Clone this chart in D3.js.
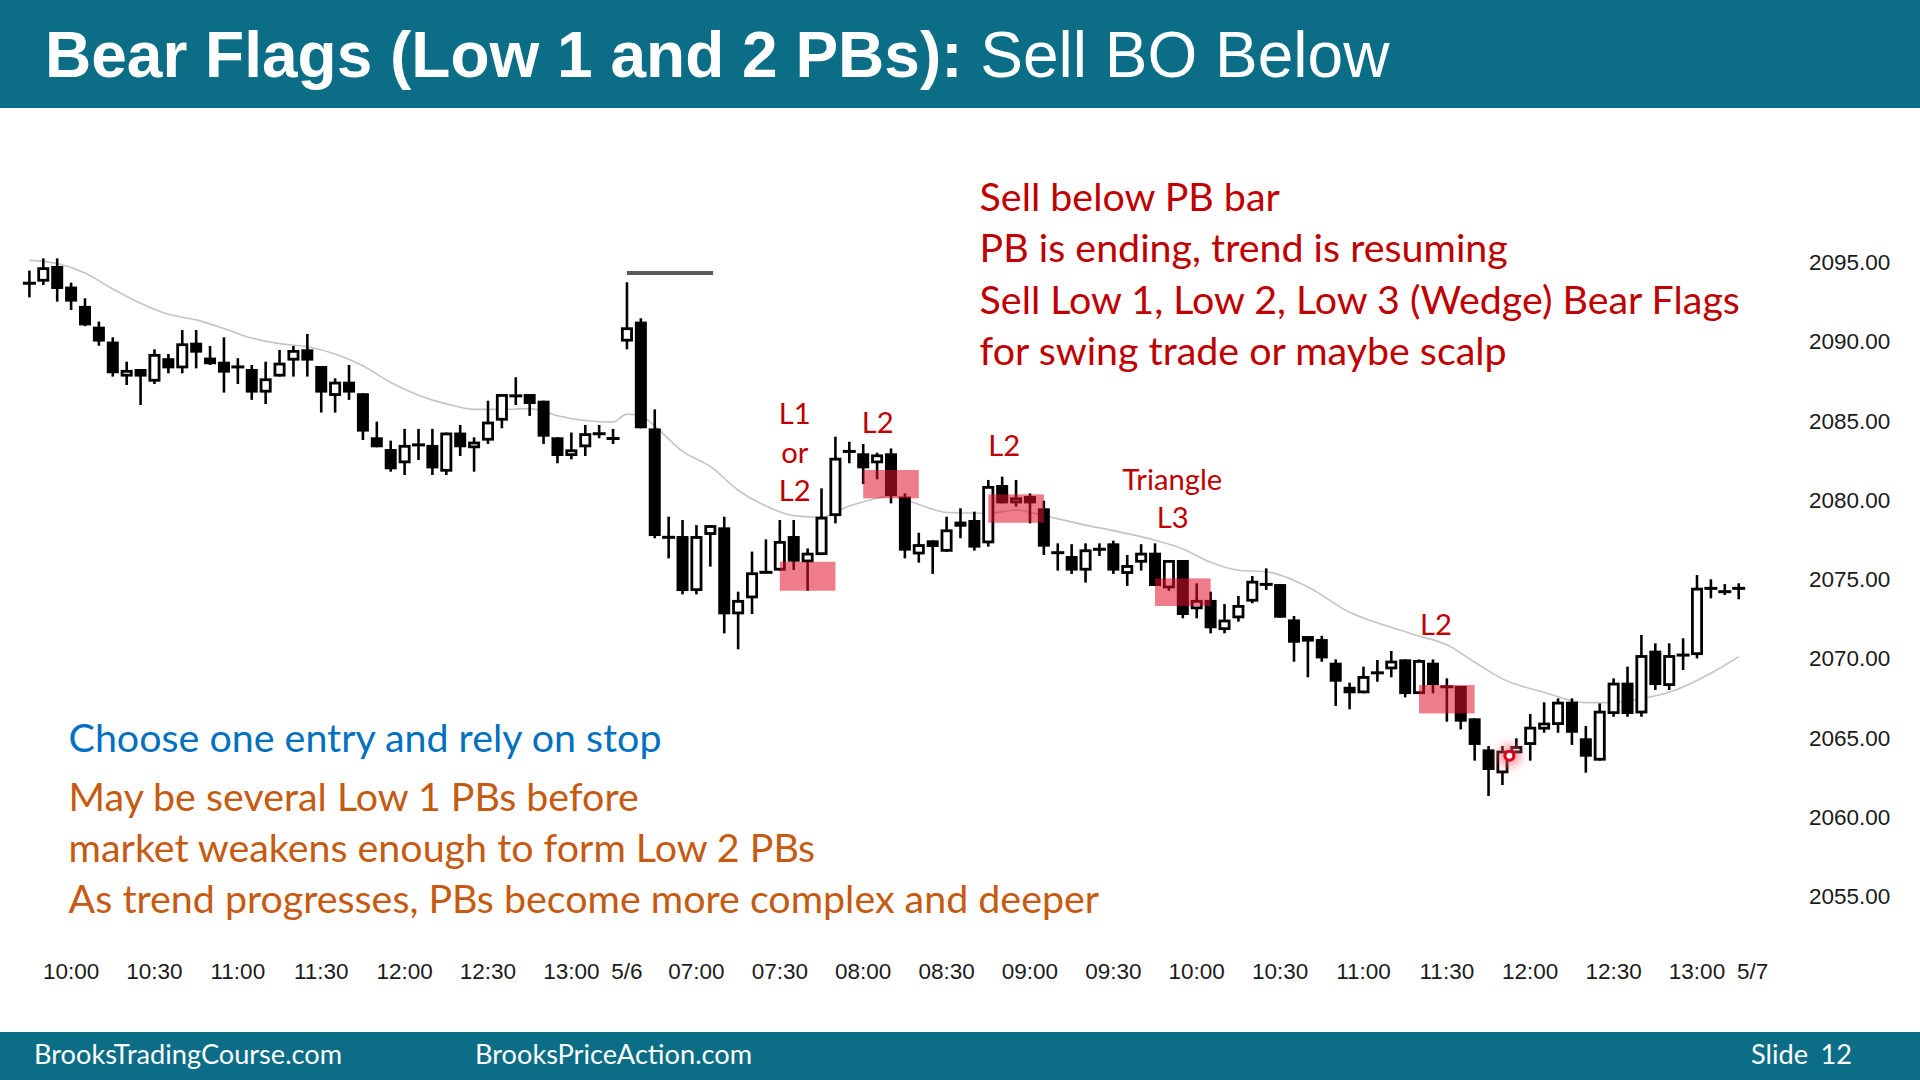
<!DOCTYPE html>
<html><head><meta charset="utf-8">
<script src="https://cdn.jsdelivr.net/npm/d3@7"></script>
<style>html,body{margin:0;padding:0;background:#fff;} svg{display:block}</style>
</head><body>
<svg id="c" width="1920" height="1080"></svg>
<script>
// ---------- DATA ----------
const opens = [2093.66,2093.76,2094.75,2093.45,2092.23,2090.92,2089.98,2087.77,2088.25,2087.45,
2088.93,2088.29,2089.91,2088.97,2088.71,2088.40,2088.25,2086.76,2087.77,2088.78,
2089.49,2088.44,2086.55,2087.45,2086.72,2083.94,2083.20,2082.30,2083.46,2083.46,
2081.77,2084.24,2083.25,2083.73,2084.99,2086.61,2086.67,2086.25,2083.94,2082.76,
2083.31,2084.24,2083.88,2089.98,2091.24,2084.50,2077.63,2077.71,2074.24,2077.78,
2078.26,2072.77,2073.78,2075.42,2075.53,2077.71,2076.05,2076.51,2078.97,2083.00,
2082.93,2082.30,2082.93,2080.20,2076.55,2077.44,2076.72,2078.30,2078.72,2077.25,
2080.93,2079.77,2080.24,2079.46,2076.66,2076.45,2075.53,2076.93,2077.25,2075.32,
2076.03,2076.66,2074.41,2076.20,2073.09,2073.68,2071.78,2072.52,2073.57,2074.66,
2074.68,2072.45,2071.05,2071.21,2069.72,2068.20,2067.79,2069.01,2069.30,2069.93,
2067.74,2069.72,2068.20,2068.25,2066.21,2064.25,2062.74,2064.00,2064.53,2065.50,
2065.79,2067.26,2064.95,2063.54,2066.48,2068.46,2066.52,2070.48,2068.25,2070.20,
2070.20,2074.41,2074.20,2074.41];
const highs = [2094.46,2095.23,2095.23,2093.70,2092.71,2091.24,2090.25,2088.71,2088.25,2089.49,
2089.20,2090.71,2090.71,2089.70,2090.25,2088.93,2088.50,2088.71,2089.45,2089.70,
2090.46,2088.44,2087.66,2088.50,2086.72,2084.93,2083.73,2084.47,2084.47,2084.47,
2084.24,2084.72,2083.94,2086.25,2086.67,2087.73,2086.67,2086.25,2083.94,2084.24,
2084.72,2084.72,2084.47,2093.72,2091.45,2085.70,2078.93,2078.72,2078.40,2078.40,
2078.93,2074.20,2076.73,2077.50,2078.72,2078.72,2076.93,2080.72,2083.98,2083.66,
2083.52,2082.97,2083.24,2080.40,2077.92,2077.44,2078.93,2079.46,2079.25,2081.25,
2081.46,2081.25,2080.40,2079.94,2077.25,2077.20,2077.25,2077.25,2077.42,2076.51,
2077.20,2077.25,2076.20,2076.20,2074.73,2074.20,2073.42,2073.93,2075.19,2075.67,
2074.68,2072.67,2071.40,2071.42,2069.93,2068.46,2069.47,2069.89,2070.46,2069.93,
2069.93,2069.93,2068.73,2068.25,2066.21,2064.46,2064.46,2064.95,2066.48,2067.22,
2067.47,2067.47,2065.73,2067.15,2068.73,2069.47,2071.47,2070.94,2070.94,2071.26,
2075.25,2074.98,2074.68,2074.73];
const lows = [2092.77,2093.55,2092.50,2091.97,2090.95,2089.72,2087.77,2087.24,2085.98,2087.30,
2087.98,2087.98,2088.29,2088.50,2086.76,2087.30,2086.30,2086.04,2087.77,2087.77,
2087.77,2085.50,2085.50,2086.30,2083.77,2083.31,2081.77,2081.56,2082.51,2081.56,
2081.56,2082.76,2081.77,2083.52,2084.51,2085.98,2085.29,2083.52,2082.30,2082.55,
2082.76,2083.88,2083.52,2089.49,2084.51,2077.57,2076.30,2074.03,2074.03,2075.78,
2071.57,2070.56,2072.79,2075.40,2075.53,2075.57,2074.26,2076.51,2078.51,2082.30,
2080.99,2081.29,2079.77,2076.30,2076.03,2075.32,2076.72,2077.57,2076.79,2077.04,
2079.77,2079.56,2078.51,2076.51,2075.53,2075.32,2074.77,2076.45,2075.32,2074.56,
2075.53,2074.56,2074.26,2072.52,2072.52,2071.57,2071.57,2072.31,2073.47,2074.31,
2072.56,2069.78,2068.80,2069.78,2066.99,2066.78,2067.79,2068.52,2068.80,2067.53,
2067.74,2067.79,2066.00,2065.51,2063.54,2061.31,2062.00,2064.00,2063.54,2065.30,
2065.30,2064.53,2062.78,2063.54,2066.31,2066.31,2066.31,2068.00,2068.00,2069.26,
2069.99,2073.78,2073.99,2073.72];
const closes = [2093.66,2094.67,2093.30,2092.50,2091.00,2089.98,2087.98,2088.19,2087.77,2089.20,
2088.29,2089.87,2089.28,2088.55,2088.02,2088.36,2086.76,2087.66,2088.65,2089.45,
2088.78,2086.76,2087.45,2086.76,2084.30,2083.31,2081.92,2083.46,2083.46,2081.98,
2084.24,2083.31,2083.67,2084.93,2086.67,2086.50,2086.04,2083.98,2082.76,2083.18,
2084.20,2084.09,2083.85,2090.88,2084.51,2077.71,2077.63,2074.24,2077.71,2078.40,
2072.77,2073.68,2075.42,2075.42,2077.40,2076.09,2076.66,2078.93,2082.65,2083.10,
2081.98,2082.86,2080.24,2076.79,2077.20,2077.02,2078.13,2078.62,2076.98,2080.87,
2079.77,2080.15,2079.77,2077.04,2076.66,2075.53,2076.87,2076.82,2075.53,2075.88,
2076.66,2074.56,2076.20,2072.73,2073.68,2071.89,2072.44,2073.36,2074.89,2074.66,
2072.56,2070.98,2071.40,2069.99,2068.52,2067.79,2068.88,2069.15,2069.85,2067.74,
2069.89,2068.31,2068.20,2066.00,2064.53,2062.95,2064.17,2064.46,2065.68,2065.94,
2067.26,2065.30,2063.79,2066.69,2068.46,2066.48,2070.20,2068.31,2070.20,2070.20,
2074.45,2074.41,2074.20,2074.41];

// moving average line (bar index / price)
const emaIdx = [0,2,4,6,8,10,12,14,16,18,20,22,24,26,28,30,32,34,36,38,40,42,43,44,45,47,49,51,53,55,
57,59,61,62,64,66,69,71,73,76,78,81,83,85,87,89,92,95,98,100,102,104,106,109,112,114,116,118,121,123];
const emaVal = [2095.1,2094.9,2094.3,2093.3,2092.4,2091.7,2091.35,2090.8,2090.2,2089.85,
2089.65,2089.2,2088.45,2087.4,2086.6,2086.05,2085.7,2085.7,2085.75,2085.3,
2085.0,2084.9,2085.4,2085.3,2084.65,2083.05,2082.1,2080.6,2079.6,2079.0,
2078.9,2079.6,2080.1,2080.25,2079.7,2079.2,2079.15,2079.35,2079.0,2078.4,
2078.05,2077.45,2076.9,2076.05,2075.55,2075.45,2074.5,2072.9,2071.95,2071.4,
2070.85,2069.75,2068.7,2067.85,2067.2,2067.2,2067.45,2067.85,2069.05,2070.1];

const timeTickIdx = [3,9,15,21,27,33,39,43,48,54,60,66,72,78,84,90,96,102,108,114,120,124];
const timeTickLabels = ["10:00","10:30","11:00","11:30","12:00","12:30","13:00","5/6","07:00","07:30",
"08:00","08:30","09:00","09:30","10:00","10:30","11:00","11:30","12:00","12:30","13:00","5/7"];
const priceTicks = [2095,2090,2085,2080,2075,2070,2065,2060,2055];

// entry zones (bar index range, price range)
const boxStart = [54,60,69,81,100];
const boxEnd   = [58,64,73,85,104];
const boxLow   = [2074.26,2080.09,2078.55,2073.30,2066.52];
const boxHigh  = [2076.09,2081.88,2080.34,2075.04,2068.31];

const priorHighPrice = 2094.3;
const priorHighFrom = 43, priorHighTo = 49.2;

const labelText  = ["L1","or","L2","L2","L2","Triangle","L3","L2"];
const labelIdx   = [55.08,55.08,55.08,61.05,70.15,82.24,82.27,101.22];
const labelPrice = [2084.76,2082.31,2079.92,2084.23,2082.76,2080.62,2078.24,2071.47];

const markIdx = 106.5, markPrice = 2063.85;

const titleBold = "Bear Flags (Low 1 and 2 PBs):";
const titleRest = " Sell BO Below";
const redLines = ["Sell below PB bar","PB is ending, trend is resuming","Sell Low 1, Low 2, Low 3 (Wedge) Bear Flags","for swing trade or maybe scalp"];
const blueLine = "Choose one entry and rely on stop";
const brownLines = ["May be several Low 1 PBs before","market weakens enough to form Low 2 PBs","As trend progresses, PBs become more complex and deeper"];

// ---------- DRAW ----------
const svg = d3.select("#c");
const TEAL = "#0B6D86";
const RED = "#C00000";
const BODY = "Lato, 'Open Sans', sans-serif";
const ARIAL = "'Liberation Sans', Arial, sans-serif";

const x = d3.scaleLinear().domain([0,120]).range([29.4,1697]);
const y = d3.scaleLinear().domain([2055,2095]).range([896,262]);

// header / footer
svg.append("rect").attr("x",0).attr("y",0).attr("width",1920).attr("height",108).attr("fill",TEAL);
svg.append("rect").attr("x",0).attr("y",1032).attr("width",1920).attr("height",48).attr("fill",TEAL);

const title = svg.append("text").attr("x",45).attr("y",77).attr("fill","#fff")
  .attr("font-family",ARIAL).attr("font-size",64);
title.append("tspan").attr("font-weight","bold").text(titleBold);
title.append("tspan").attr("font-weight","normal").text(titleRest);

function fitText(sel, w){
  const cur = sel.node().getComputedTextLength();
  const fs = parseFloat(sel.attr("font-size"));
  return fs*w/cur;
}

const foot = [["BrooksTradingCourse.com",34,313,"start"],["BrooksPriceAction.com",475,273,"start"]];
let footSizes=[];
const footSel = foot.map(f=>{
  const t = svg.append("text").attr("x",f[1]).attr("y",1064).attr("fill","#fff")
    .attr("font-family",BODY).attr("font-size",28).text(f[0]);
  footSizes.push(fitText(t,f[2])); return t;});
const fs = d3.mean(footSizes);
footSel.forEach(t=>t.attr("font-size",fs));
svg.append("text").attr("x",1751).attr("y",1064).attr("fill","#fff").attr("font-family",BODY).attr("font-size",fs).text("Slide");
svg.append("text").attr("x",1852).attr("y",1064).attr("text-anchor","end").attr("fill","#fff").attr("font-family",BODY).attr("font-size",fs).text("12");

// axis labels
const gy = svg.append("g");
priceTicks.forEach(p=>{
  gy.append("text").attr("x",1809).attr("y",y(p)).attr("dy","0.36em")
    .attr("font-family",ARIAL).attr("font-size",22.5).attr("fill","#1a1a1a").text(p.toFixed(2));
});
const gx = svg.append("g");
timeTickIdx.forEach((t,k)=>{
  gx.append("text").attr("x",x(t)).attr("y",971).attr("dy","0.36em").attr("text-anchor","middle")
    .attr("font-family",ARIAL).attr("font-size",22.5).attr("fill","#1a1a1a").text(timeTickLabels[k]);
});

// moving average
svg.append("path").datum(emaIdx.map((d,k)=>[d,emaVal[k]]))
  .attr("d", d3.line().x(d=>x(d[0])).y(d=>y(d[1])).curve(d3.curveMonotoneX))
  .attr("fill","none").attr("stroke","#c4c4c4").attr("stroke-width",1.6);

// prior high line
svg.append("line").attr("x1",x(priorHighFrom)).attr("x2",x(priorHighTo))
  .attr("y1",y(priorHighPrice)).attr("y2",y(priorHighPrice))
  .attr("stroke","#5a5a5a").attr("stroke-width",4);

// candles
const gc = svg.append("g");
const BW = 12;
opens.forEach((o,i)=>{
  const h = highs[i], l = lows[i], c = closes[i];
  const cx = x(i);
  gc.append("line").attr("x1",cx).attr("x2",cx).attr("y1",y(h)).attr("y2",y(l))
    .attr("stroke","#000").attr("stroke-width",2.6);
  const top = y(Math.max(o,c)), bot = y(Math.min(o,c));
  if (bot-top < 3){
    gc.append("line").attr("x1",cx-6.5).attr("x2",cx+6.5).attr("y1",(top+bot)/2).attr("y2",(top+bot)/2)
      .attr("stroke","#000").attr("stroke-width",3);
  } else if (c > o){
    gc.append("rect").attr("x",cx-BW/2+1.4).attr("y",top+1.4).attr("width",BW-2.8).attr("height",Math.max(1,bot-top-2.8))
      .attr("fill","#fff").attr("stroke","#000").attr("stroke-width",2.8);
  } else {
    gc.append("rect").attr("x",cx-BW/2).attr("y",top).attr("width",BW).attr("height",bot-top)
      .attr("fill","#000");
  }
});

// entry zones
boxStart.forEach((s,k)=>{
  svg.append("rect").attr("x",x(s)).attr("y",y(boxHigh[k]))
    .attr("width",x(boxEnd[k])-x(s)).attr("height",y(boxLow[k])-y(boxHigh[k]))
    .attr("fill","#E0102A").attr("fill-opacity",0.55);
});

// cursor mark
const defs = svg.append("defs");
defs.append("filter").attr("id","blur").attr("x","-100%").attr("y","-100%").attr("width","300%").attr("height","300%")
  .append("feGaussianBlur").attr("stdDeviation",4);
svg.append("circle").attr("cx",x(markIdx)).attr("cy",y(markPrice)).attr("r",12)
  .attr("fill","#ff6070").attr("opacity",0.55).attr("filter","url(#blur)");
svg.append("circle").attr("cx",x(markIdx)).attr("cy",y(markPrice)).attr("r",4.5)
  .attr("fill","#fff").attr("stroke","#e0001a").attr("stroke-width",3.2);

// bar labels
const tri = svg.append("text").attr("font-family",BODY).attr("font-size",30).text("Triangle");
const labFs = fitText(tri,100); tri.remove();
labelText.forEach((t,k)=>{
  svg.append("text").attr("x",x(labelIdx[k])).attr("y",y(labelPrice[k])).attr("text-anchor","middle")
    .attr("font-family",BODY).attr("font-size",labFs).attr("fill",RED).text(t);
});

// text blocks
function block(lines, widths, x0, baselines, color){
  const sels = lines.map((t,k)=>svg.append("text").attr("x",x0).attr("y",baselines[k])
    .attr("font-family",BODY).attr("font-size",40).attr("fill",color).text(t));
  return sels.map((s,k)=>[s,fitText(s,widths[k])]);
}
const all = [];
all.push(...block(redLines,[297.6,530,759,529],979.6,[211,262.3,313.6,364.8],RED));
all.push(...block([blueLine],[594],68.6,[751.5],"#0070C0"));
all.push(...block(brownLines,[567,745.7,1036],68.6,[811,861.5,913],"#C55A11"));
const bfs = d3.median(all.map(d=>d[1]));
all.forEach(d=>d[0].attr("font-size",bfs));
</script>
</body></html>
